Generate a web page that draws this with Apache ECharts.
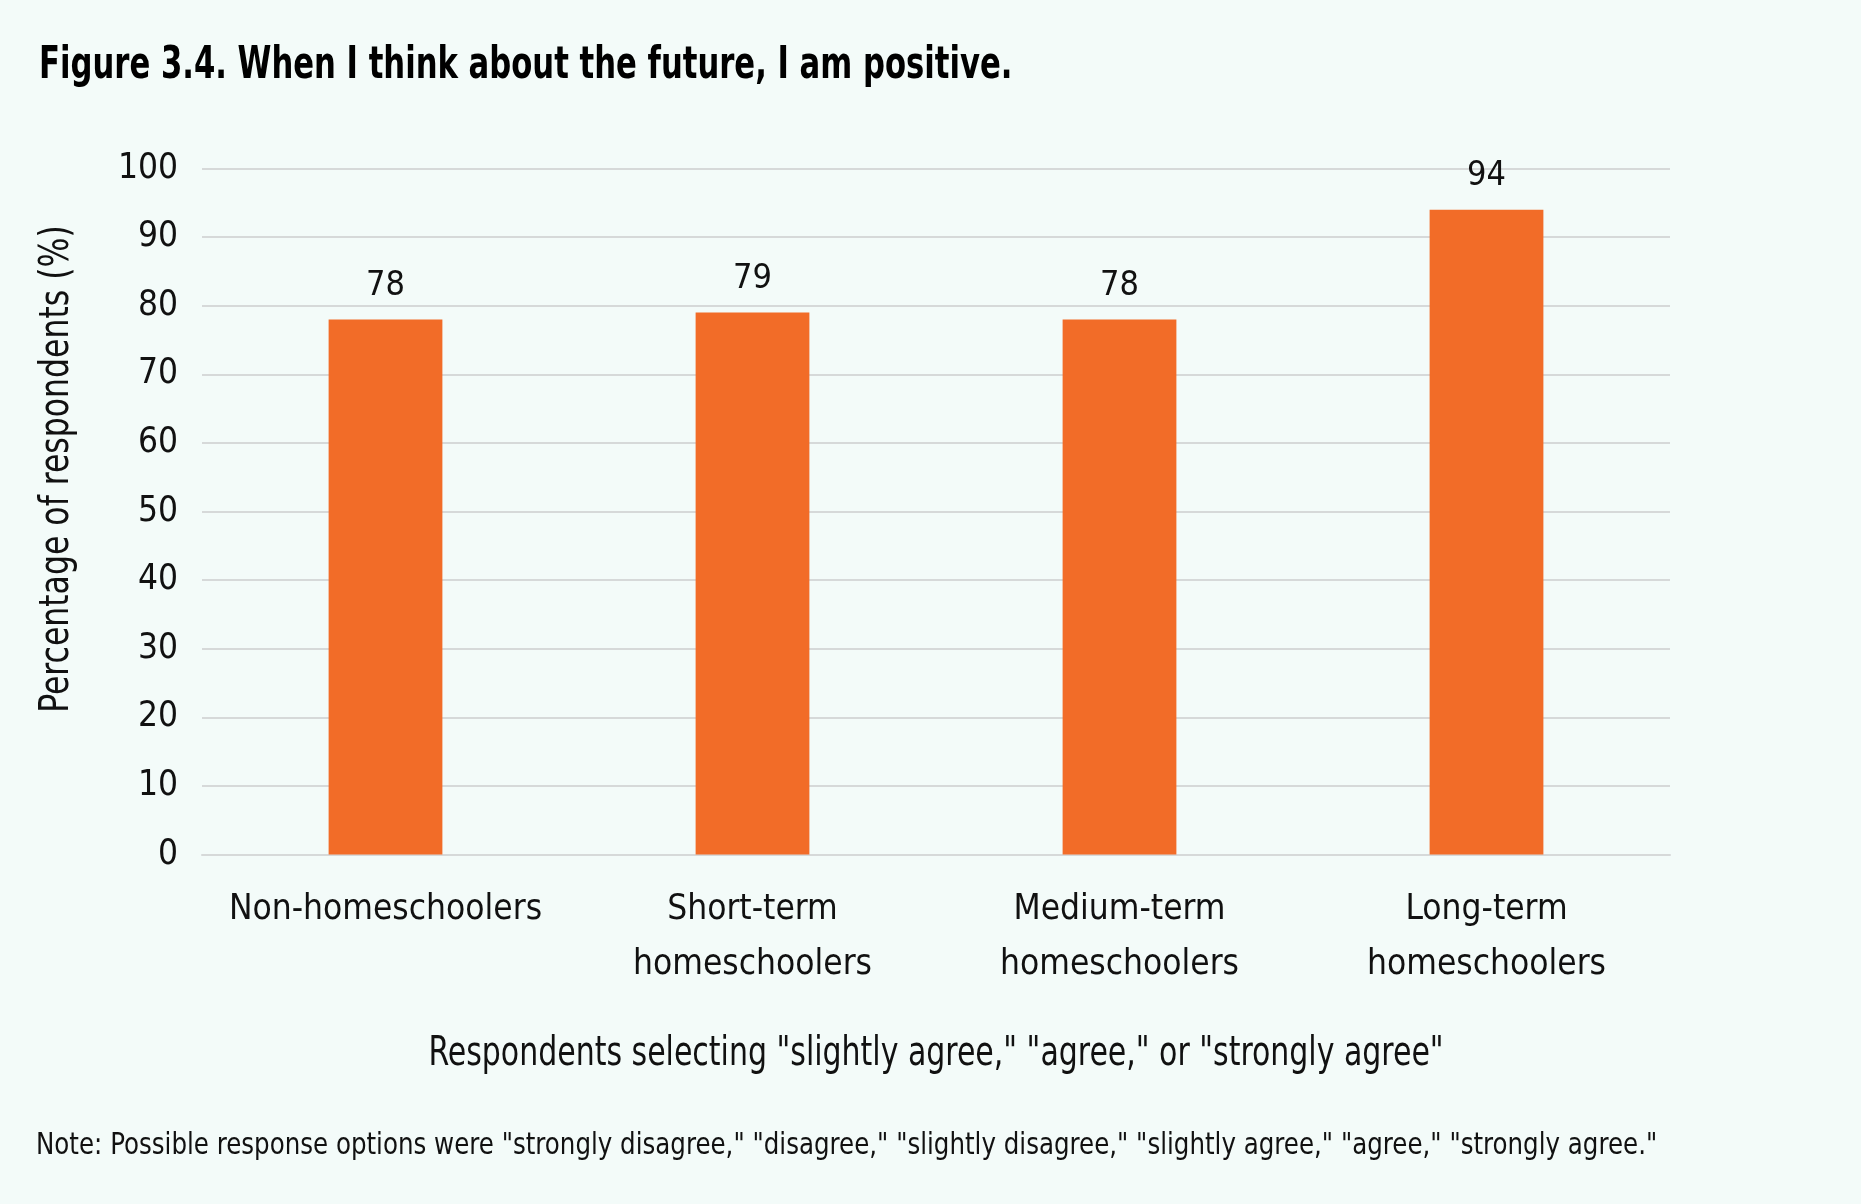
<!DOCTYPE html>
<html>
<head>
<meta charset="utf-8">
<script src="https://cdn.jsdelivr.net/npm/echarts@6/dist/echarts.min.js"></script>
<style>
html,body{margin:0;padding:0;background:#f3fbf9;}
#c{width:1861px;height:1204px;}
</style>
</head>
<body>
<div id="c"></div>
<script>
const categories = ["Non-homeschoolers", "Short-term\nhomeschoolers", "Medium-term\nhomeschoolers", "Long-term\nhomeschoolers"];
const values = [78, 79, 78, 94];
const yTicks = [0, 10, 20, 30, 40, 50, 60, 70, 80, 90, 100];

const FONT = '"Liberation Sans Narrow", "DejaVu Sans Condensed", "Liberation Sans", sans-serif';
const chart = echarts.init(document.getElementById('c'));
chart.setOption({
  backgroundColor: '#f3fbf9',
  animation: false,
  textStyle: { fontFamily: FONT, color: '#111' },
  grid: { left: 202, right: 191, top: 168.5, bottom: 349.5, containLabel: false },
  xAxis: {
    type: 'category',
    data: categories,
    axisLine: { lineStyle: { color: '#d6d9d9', width: 2 } },
    axisTick: { show: false },
    axisLabel: { interval: 0, fontFamily: FONT, fontSize: 35, color: '#111', margin: 28, lineHeight: 55 }
  },
  yAxis: {
    type: 'value',
    min: yTicks[0], max: yTicks[yTicks.length - 1], interval: 10,
    axisLine: { show: false },
    axisTick: { show: false },
    splitLine: { lineStyle: { color: '#d6d9d9', width: 2 } },
    axisLabel: { fontFamily: FONT, fontSize: 35, color: '#111', margin: 24 }
  },
  graphic: [
    {
      type: 'text', x: 39, y: 67, scaleX: 0.775,
      style: { text: 'Figure 3.4. When I think about the future, I am positive.', fontFamily: FONT, fontWeight: 'bold', fontSize: 44, fill: '#000', align: 'left', verticalAlign: 'middle' }
    },
    {
      type: 'text', x: 58, y: 469, rotation: Math.PI / 2, scaleX: 0.876,
      style: { text: 'Percentage of respondents (%)', fontFamily: FONT, fontSize: 40, fill: '#111', align: 'center', verticalAlign: 'middle' }
    },
    {
      type: 'text', x: 936, y: 1055, scaleX: 0.833,
      style: { text: 'Respondents selecting "slightly agree," "agree," or "strongly agree"', fontFamily: FONT, fontSize: 40, fill: '#111', align: 'center', verticalAlign: 'middle' }
    },
    {
      type: 'text', x: 36, y: 1146, scaleX: 0.88,
      style: { text: 'Note: Possible response options were "strongly disagree," "disagree," "slightly disagree," "slightly agree," "agree," "strongly agree."', fontFamily: FONT, fontSize: 31, fill: '#111', align: 'left', verticalAlign: 'middle' }
    }
  ],
  series: [{
    type: 'bar',
    data: values,
    barWidth: '31%',
    itemStyle: { color: '#f26c28' },
    label: { show: true, position: 'top', distance: 16, fontFamily: FONT, fontSize: 34, color: '#111' }
  }]
});
</script>
</body>
</html>
